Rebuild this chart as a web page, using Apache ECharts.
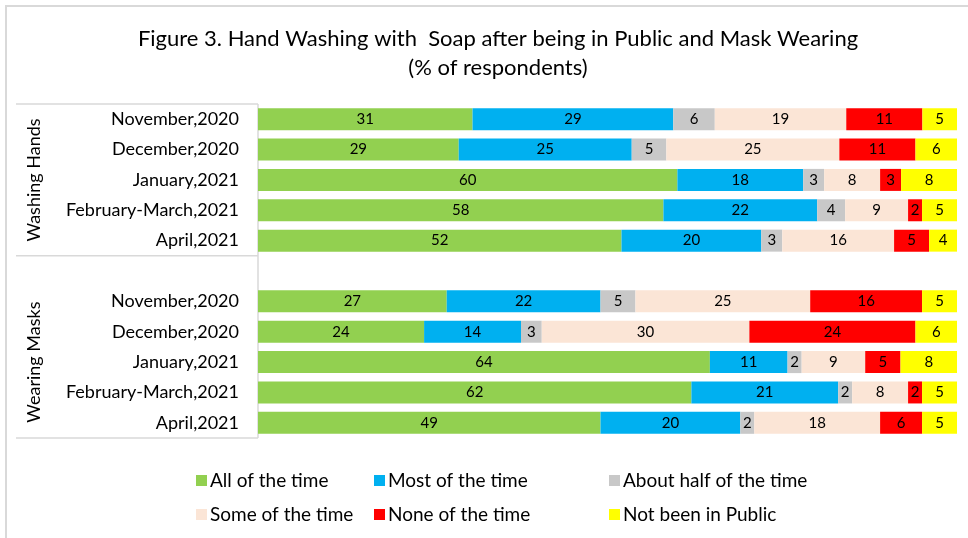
<!DOCTYPE html>
<html>
<head>
<meta charset="utf-8">
<script src="https://cdn.jsdelivr.net/npm/echarts@6/dist/echarts.min.js"></script>
<style>
	html,body{margin:0;padding:0;background:#fff;}
	#chart{width:968px;height:538px;}
</style>
</head>
<body>
<div id="chart"></div>
<script>
	// rows: 5 hand washing, one empty gap row, 5 mask wearing
	var categories = ['November,2020','December,2020','January,2021','February-March,2021','April,2021','','November,2020','December,2020','January,2021','February-March,2021','April,2021'];
	var seriesNames = ['All of the time','Most of the time','About half of the time','Some of the time','None of the time','Not been in Public'];
	var allOfTheTime = [31,29,60,58,52,null,27,24,64,62,49];
	var mostOfTheTime = [29,25,18,22,20,null,22,14,11,21,20];
	var aboutHalf = [6,5,3,4,3,null,5,3,2,2,2];
	var someOfTheTime = [19,25,8,9,16,null,25,30,9,8,18];
	var noneOfTheTime = [11,11,3,2,5,null,16,24,5,2,6];
	var notInPublic = [5,6,8,5,4,null,5,6,8,5,5];
	var groupLabels = ['Washing Hands','Wearing Masks'];

	var colors = ['#92D050','#00B0F0','#C8C8C8','#FBE5D6','#FF0000','#FFFF00'];
	var allValues = [allOfTheTime,mostOfTheTime,aboutHalf,someOfTheTime,noneOfTheTime,notInPublic];
	var fontName = 'Lato';
	var lineColor = '#d9d9d9';

	// 100% stacked: each row is scaled to its own total, label keeps the raw value
	var rowTotals = categories.map(function(c,i){
		var t = 0;
		allValues.forEach(function(arr){ if(arr[i] != null) t += arr[i]; });
		return t;
	});

	var series = allValues.map(function(arr,k){
		return {
			name: seriesNames[k],
			type: 'bar',
			stack: 'total',
			barWidth: 22,
			itemStyle: {color: colors[k]},
			label: {
				show: true,
				position: 'inside',
				color: '#000',
				fontFamily: fontName,
				fontSize: 15,
				formatter: function(p){ return p.data.raw; }
			},
			emphasis: {disabled: true},
			data: arr.map(function(v,i){
				if(v == null) return '-';
				return {value: v / rowTotals[i] * 100, raw: v};
			})
		};
	});

	var myChart = echarts.init(document.getElementById('chart'));
	var gridTop = 104, gridH = 334, gridLeft = 258;
	var band = gridH / categories.length;

	var legendStyle = {
		orient: 'vertical',
		top: 466,
		itemWidth: 11,
		itemHeight: 11,
		itemGap: 15,
		icon: 'rect',
		selectedMode: false,
		textStyle: {fontFamily: fontName, fontSize: 19, color: '#000', padding: [0,0,0,-2]}
	};

	var option = {
		animation: false,
		title: {
			text: 'Figure 3. Hand Washing with  Soap after being in Public and Mask Wearing\n(% of respondents)',
			left: 493,
			top: 19,
			textAlign: 'center',
			textStyle: {fontFamily: fontName, fontSize: 22, fontWeight: 'normal', color: '#000', lineHeight: 29}
		},
		legend: [
			Object.assign({left: 191, data: [seriesNames[0], seriesNames[3]]}, legendStyle),
			Object.assign({left: 369, data: [seriesNames[1], seriesNames[4]]}, legendStyle),
			Object.assign({left: 604, data: [seriesNames[2], seriesNames[5]]}, legendStyle)
		],
		grid: {left: gridLeft, top: gridTop, width: 699, height: gridH},
		xAxis: {type: 'value', min: 0, max: 100, show: false},
		yAxis: {
			type: 'category',
			inverse: true,
			data: categories,
			axisLine: {show: false},
			axisTick: {show: false},
			axisLabel: {fontFamily: fontName, fontSize: 18, color: '#000', margin: 19}
		},
		graphic: [
			{type: 'rect', shape: {x: 6, y: 6, width: 1000, height: 600}, style: {fill: 'none', stroke: lineColor, lineWidth: 2}},
			{type: 'line', shape: {x1: 16, y1: gridTop, x2: gridLeft, y2: gridTop}, style: {stroke: lineColor, lineWidth: 1.5}},
			{type: 'line', shape: {x1: 16, y1: gridTop + band * 5, x2: gridLeft, y2: gridTop + band * 5}, style: {stroke: lineColor, lineWidth: 1.5}},
			{type: 'line', shape: {x1: 16, y1: gridTop + gridH, x2: gridLeft, y2: gridTop + gridH}, style: {stroke: lineColor, lineWidth: 1.5}},
			{type: 'line', shape: {x1: gridLeft, y1: gridTop, x2: gridLeft, y2: gridTop + gridH}, style: {stroke: lineColor, lineWidth: 1.5}},
			{type: 'text', x: 34, y: gridTop + band * 2.5, rotation: Math.PI / 2,
				style: {text: groupLabels[0], fontFamily: fontName, fontSize: 18, fill: '#000', align: 'center', verticalAlign: 'middle'}},
			{type: 'text', x: 34, y: gridTop + band * 8.5, rotation: Math.PI / 2,
				style: {text: groupLabels[1], fontFamily: fontName, fontSize: 18, fill: '#000', align: 'center', verticalAlign: 'middle'}}
		],
		series: series
	};
	myChart.setOption(option);
</script>
</body>
</html>
